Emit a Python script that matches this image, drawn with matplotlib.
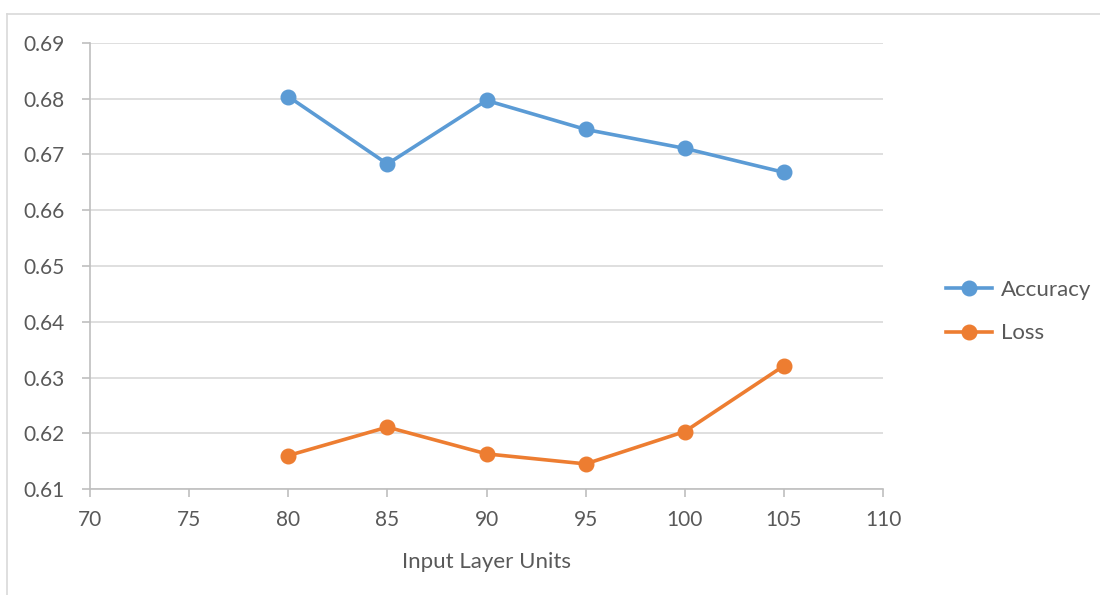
import matplotlib
matplotlib.use('Agg')
from matplotlib import pyplot as plt
from matplotlib.lines import Line2D

plt.rcParams['font.family'] = ['Lato', 'DejaVu Sans']

# данные
units = [80, 85, 90, 95, 100, 105]
accuracy = [0.6804, 0.6683, 0.6797, 0.6745, 0.6711, 0.6668]
loss = [0.6160, 0.6211, 0.6163, 0.6145, 0.6203, 0.6321]

x_ticks = [70, 75, 80, 85, 90, 95, 100, 105, 110]
y_ticks = [0.61, 0.62, 0.63, 0.64, 0.65, 0.66, 0.67, 0.68, 0.69]

blue = '#5B9BD5'
orange = '#ED7D31'
text_color = '#595959'
axis_color = '#BFBFBF'
grid_color = '#D9D9D9'

fig = plt.figure(figsize=(11, 5.95), dpi=100)
ax = fig.add_axes([90 / 1100, 1 - 489 / 595, 793 / 1100, 446 / 595])

# рамка области диаграммы
fig.add_artist(Line2D([7 / 1100, 7 / 1100], [0, 1 - 14 / 595],
                      color=grid_color, lw=1.2, transform=fig.transFigure))
fig.add_artist(Line2D([7 / 1100, 1], [1 - 14 / 595, 1 - 14 / 595],
                      color=grid_color, lw=1.2, transform=fig.transFigure))

ax.plot(units, accuracy, '-o', color=blue, lw=2.6, markersize=10.5,
        label='Accuracy', zorder=3)
ax.plot(units, loss, '-o', color=orange, lw=2.6, markersize=10.5,
        label='Loss', zorder=3)

ax.set_xlim(70, 110)
ax.set_ylim(0.61, 0.69)
ax.set_xticks(x_ticks)
ax.set_yticks(y_ticks)
ax.set_yticklabels([f'{v:.2f}' for v in y_ticks])

ax.grid(axis='y', color=grid_color, lw=1.2, zorder=0)
for side in ['top', 'right']:
    ax.spines[side].set_visible(False)
for side in ['left', 'bottom']:
    ax.spines[side].set_color(axis_color)
    ax.spines[side].set_linewidth(1.2)

ax.tick_params(axis='both', colors=axis_color, labelcolor=text_color,
               labelsize=15, length=6, width=1.2)
ax.tick_params(axis='y', pad=12)
ax.tick_params(axis='x', pad=9)

ax.set_xlabel('Input Layer Units', fontsize=16, color=text_color,
              labelpad=16)

ax.legend(loc='center left', bbox_to_anchor=(1.054, 0.398), frameon=False,
          fontsize=16, labelcolor=text_color, handlelength=2.1,
          handletextpad=0.4, labelspacing=1.07)

plt.savefig('out.png', dpi=100)
